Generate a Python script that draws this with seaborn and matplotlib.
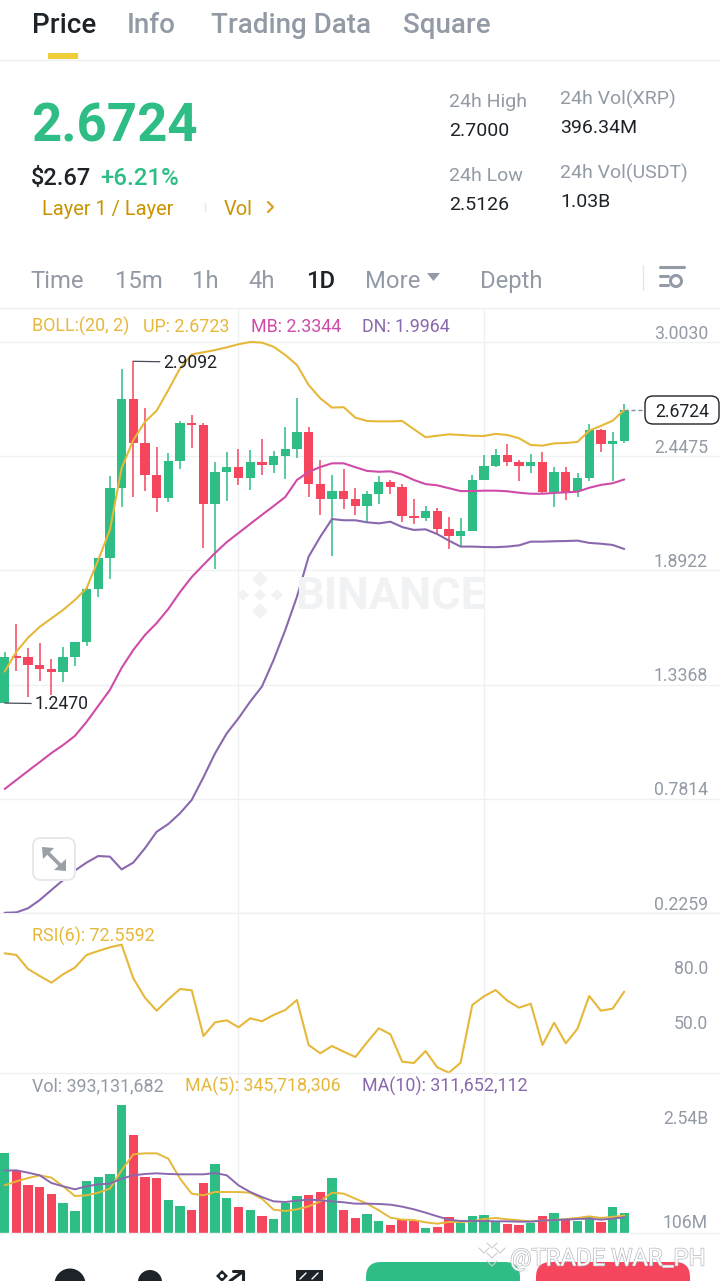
import numpy as np
import pandas as pd
import matplotlib
matplotlib.use("Agg")
import matplotlib.pyplot as plt
import matplotlib.patheffects as pe
from matplotlib.patches import FancyBboxPatch, Rectangle, Circle, Polygon
import seaborn as sns

# candles (daily XRP/USDT)
open_px = [1.247, 1.476, 1.470, 1.434, 1.414, 1.398, 1.472, 1.543, 1.800, 1.954, 2.293, 2.726, 2.512, 2.358, 2.246, 2.426, 2.611, 2.599,
           2.214, 2.371, 2.394, 2.340, 2.421, 2.403, 2.447, 2.484, 2.567, 2.312, 2.240, 2.278, 2.240, 2.205, 2.262, 2.322, 2.296, 2.157,
           2.147, 2.183, 2.095, 2.060, 2.082, 2.332, 2.401, 2.453, 2.421, 2.400, 2.419, 2.272, 2.372, 2.280, 2.342, 2.575, 2.507, 2.523]
high_px = [1.497, 1.630, 1.513, 1.539, 1.460, 1.521, 1.546, 1.813, 1.954, 2.351, 2.872, 2.9092, 2.681, 2.494, 2.462, 2.620, 2.648, 2.608,
           2.419, 2.470, 2.484, 2.478, 2.531, 2.473, 2.588, 2.729, 2.591, 2.429, 2.356, 2.385, 2.294, 2.278, 2.351, 2.332, 2.312, 2.238,
           2.207, 2.197, 2.152, 2.149, 2.355, 2.452, 2.481, 2.508, 2.429, 2.458, 2.468, 2.397, 2.394, 2.367, 2.604, 2.580, 2.564, 2.700]
low_px = [1.247, 1.404, 1.278, 1.356, 1.286, 1.351, 1.429, 1.525, 1.764, 1.849, 2.202, 2.251, 2.280, 2.175, 2.226, 2.385, 2.486, 2.003,
          1.900, 2.231, 2.309, 2.283, 2.356, 2.367, 2.335, 2.440, 2.248, 2.162, 1.962, 2.191, 2.162, 2.129, 2.215, 2.262, 2.129, 2.116,
          2.134, 2.073, 1.996, 2.012, 2.082, 2.332, 2.394, 2.400, 2.327, 2.367, 2.267, 2.201, 2.236, 2.248, 2.326, 2.470, 2.328, 2.5126]
close_px = [1.472, 1.466, 1.434, 1.414, 1.398, 1.470, 1.543, 1.800, 1.954, 2.293, 2.726, 2.512, 2.358, 2.246, 2.426, 2.611, 2.599, 2.214,
            2.371, 2.394, 2.340, 2.421, 2.403, 2.447, 2.484, 2.567, 2.312, 2.240, 2.278, 2.240, 2.205, 2.262, 2.322, 2.299, 2.157, 2.147,
            2.183, 2.095, 2.060, 2.082, 2.332, 2.401, 2.453, 2.421, 2.400, 2.419, 2.272, 2.372, 2.270, 2.342, 2.575, 2.507, 2.523, 2.6724]

boll_up = [1.400, 1.497, 1.565, 1.618, 1.659, 1.700, 1.748, 1.805, 1.943, 2.089, 2.389, 2.526, 2.615, 2.669, 2.770, 2.875, 2.943, 2.953,
           2.964, 2.977, 2.992, 3.003, 3.000, 2.980, 2.940, 2.891, 2.794, 2.729, 2.684, 2.686, 2.635, 2.619, 2.617, 2.617, 2.619, 2.579,
           2.540, 2.547, 2.554, 2.551, 2.547, 2.546, 2.556, 2.551, 2.535, 2.502, 2.499, 2.510, 2.512, 2.517, 2.572, 2.595, 2.620, 2.6723]
boll_mb = [0.829, 0.873, 0.917, 0.960, 1.004, 1.043, 1.087, 1.155, 1.233, 1.311, 1.418, 1.505, 1.578, 1.636, 1.705, 1.787, 1.860, 1.919,
           1.977, 2.030, 2.074, 2.118, 2.162, 2.205, 2.249, 2.332, 2.371, 2.395, 2.413, 2.413, 2.394, 2.376, 2.372, 2.374, 2.358, 2.332,
           2.312, 2.306, 2.292, 2.278, 2.278, 2.280, 2.280, 2.277, 2.270, 2.265, 2.265, 2.269, 2.272, 2.275, 2.294, 2.308, 2.316, 2.3344]
boll_dn = [0.227, 0.229, 0.249, 0.289, 0.338, 0.386, 0.432, 0.471, 0.503, 0.500, 0.438, 0.471, 0.541, 0.621, 0.659, 0.711, 0.776, 0.886,
           1.003, 1.100, 1.173, 1.254, 1.327, 1.456, 1.602, 1.764, 1.959, 2.056, 2.142, 2.136, 2.136, 2.126, 2.121, 2.129, 2.103, 2.089,
           2.092, 2.069, 2.037, 2.008, 2.008, 2.006, 2.005, 2.008, 2.014, 2.032, 2.032, 2.034, 2.035, 2.037, 2.026, 2.022, 2.016, 1.9964]

rsi6 = [93.47, 92.55, 84.91, 81.09, 77.44, 82.02, 85.62, 92.55, 94.73, 96.75, 98.16, 79.84, 69.25, 62.16, 68.38, 74.00, 73.29, 48.36,
        55.84, 56.93, 53.11, 58.02, 56.38, 59.82, 62.55, 68.00, 43.45, 38.93, 42.91, 39.80, 36.91, 44.93, 52.56, 49.29, 34.35, 33.64,
        40.18, 31.29, 28.35, 33.80, 65.27, 70.02, 73.45, 67.62, 63.80, 65.98, 43.45, 55.62, 44.38, 52.35, 70.18, 62.16, 63.25, 72.56]

# volume in millions
volume = [1588, 1224, 953, 906, 767, 589, 430, 1039, 1105, 1164, 2540, 1951, 1118, 1085, 662, 536, 450, 986,
          1363, 688, 523, 463, 344, 271, 595, 741, 754, 807, 1098, 450, 304, 384, 245, 159, 265, 245,
          99, 126, 318, 198, 331, 351, 212, 179, 152, 192, 337, 390, 251, 245, 331, 218, 509, 393]
vol_ma5 = [946, 1025, 1091, 1144, 1098, 926, 734, 748, 800, 880, 1244, 1561, 1581, 1581, 1475, 1078, 781, 748,
           814, 814, 814, 800, 681, 463, 437, 470, 529, 628, 800, 781, 681, 582, 450, 304, 265, 258,
           212, 185, 218, 218, 232, 278, 298, 271, 251, 232, 245, 258, 278, 298, 331, 298, 318, 346]
vol_ma10 = [1237, 1244, 1197, 1144, 992, 926, 867, 926, 966, 979, 1078, 1144, 1171, 1184, 1171, 1164, 1164, 1164,
            1191, 1144, 946, 814, 714, 628, 615, 642, 662, 648, 628, 609, 582, 582, 576, 562, 523, 470,
            404, 331, 265, 238, 238, 238, 232, 232, 225, 225, 245, 258, 265, 278, 284, 265, 284, 312]

price_ticks = [3.0030, 2.4475, 1.8922, 1.3368, 0.7814, 0.2259]
rsi_ticks = [80.0, 50.0]
vol_ticks = [2540, 106]
vol_tick_labels = ["2.54B", "106M"]
date_ticks = [20, 41]

GREEN = "#2EBD85"
RED = "#F6465D"
YELLOW = "#E6B83A"
PINK = "#CF4BA8"
PURPLE = "#8A68AE"
GRAY = "#929AA5"
DARK = "#1E2329"
GRID = "#EEF0F2"

df = pd.DataFrame({"day": np.arange(len(close_px)), "open": open_px, "high": high_px, "low": low_px, "close": close_px,
                   "up": boll_up, "mb": boll_mb, "dn": boll_dn, "rsi": rsi6,
                   "vol": volume, "ma5": vol_ma5, "ma10": vol_ma10})
df["colour"] = np.where(df["close"] >= df["open"], "up", "down")
colours = df["colour"].map({"up": GREEN, "down": RED})

sns.set_theme(style="white")
plt.rcParams["font.family"] = ["Roboto", "DejaVu Sans"]

W, H = 720, 1281
fig = plt.figure(figsize=(W / 100, H / 100), dpi=100, facecolor="white")


def panel(top, bottom):
    ax = fig.add_axes([0, 1 - bottom / H, 1, (bottom - top) / H])
    ax.set_facecolor("none")
    ax.set_xlim(-0.402, 61.19)
    sns.despine(ax=ax, left=True, right=True, top=True, bottom=False)
    ax.spines["bottom"].set_color(GRID)
    ax.spines["bottom"].set_linewidth(1)
    ax.set_xticks(date_ticks)
    ax.grid(True, axis="x", color=GRID, linewidth=1)
    ax.tick_params(left=False, bottom=False, labelleft=False, labelbottom=False)
    ax.set_xlabel("")
    ax.set_ylabel("")
    return ax


def tick_text(ax, value, label, off):
    ax.annotate(label, xy=(708 / 720, value), xycoords=("axes fraction", "data"), xytext=(0, off * 0.72),
                textcoords="offset points", ha="right", va="center", color=GRAY, fontsize=12.7)


# price panel
ax_price = panel(308, 913)
ax_price.set_ylim(0.2259, 3.1684)
ax_price.set_yticks(price_ticks)
ax_price.grid(True, axis="y", color=GRID, linewidth=1)
ax_price.vlines(df["day"], df["low"], df["high"], colors=colours, linewidth=1.1, zorder=3)
ax_price.bar(df["day"], df["close"] - df["open"], bottom=df["open"], width=0.8, color=colours, linewidth=0, zorder=3)
sns.lineplot(data=df, x="day", y="up", ax=ax_price, color=YELLOW, linewidth=1.5, zorder=4)
sns.lineplot(data=df, x="day", y="mb", ax=ax_price, color=PINK, linewidth=1.5, zorder=4)
sns.lineplot(data=df, x="day", y="dn", ax=ax_price, color=PURPLE, linewidth=1.5, zorder=4)
ax_price.set_xlabel("")
ax_price.set_ylabel("")
for v in price_ticks:
    tick_text(ax_price, v, f"{v:.4f}", 8.5)

# high and low markers
ax_price.annotate("2.9092", xy=(df["day"][11], high_px[11]), xytext=(21.5, -1), textcoords="offset points",
                  va="center", ha="left", color=DARK, fontsize=12.7, zorder=6,
                  arrowprops=dict(arrowstyle="-", color="#474D57", lw=0.9, shrinkA=0, shrinkB=0, relpos=(0, 0.55)))
ax_price.annotate("1.2470", xy=(df["day"][0], low_px[0]), xytext=(21.5, -1), textcoords="offset points",
                  va="center", ha="left", color=DARK, fontsize=12.7, zorder=6,
                  arrowprops=dict(arrowstyle="-", color="#474D57", lw=0.9, shrinkA=0, shrinkB=0, relpos=(0, 0.55)))

# last price tag
ax_price.plot([df["day"].iloc[-1], 54.8], [close_px[-1], close_px[-1]], color="#848E9C", lw=1, ls=(0, (3, 2)), zorder=4)

# RSI panel
ax_rsi = panel(913, 1073)
ax_rsi.set_ylim(28.18, 115.45)
sns.lineplot(data=df, x="day", y="rsi", ax=ax_rsi, color=YELLOW, linewidth=1.5)
ax_rsi.set_xlabel("")
ax_rsi.set_ylabel("")
for v in rsi_ticks:
    tick_text(ax_rsi, v, f"{v:.1f}", 8.5)

# volume panel
ax_vol = panel(1073, 1233)
sns.barplot(data=df, x="day", y="vol", hue="colour", palette={"up": GREEN, "down": RED}, native_scale=True,
            dodge=False, width=0.8, saturation=1, legend=False, ax=ax_vol, linewidth=0)
sns.lineplot(data=df, x="day", y="ma5", ax=ax_vol, color=YELLOW, linewidth=1.4)
sns.lineplot(data=df, x="day", y="ma10", ax=ax_vol, color=PURPLE, linewidth=1.4)
ax_vol.set_xlim(-0.402, 61.19)
ax_vol.set_ylim(0, 3175)
ax_vol.set_xlabel("")
ax_vol.set_ylabel("")
tick_text(ax_vol, vol_ticks[0], vol_tick_labels[0], -13.5)
tick_text(ax_vol, vol_ticks[1], vol_tick_labels[1], 4.2)

# overlay in pixel units for the app chrome
ui = fig.add_axes([0, 0, 1, 1], zorder=10)
ui.set_xlim(0, W)
ui.set_ylim(H, 0)
ui.axis("off")
ui.patch.set_alpha(0)


def txt(x, y, s, color=DARK, size=12, weight="normal", ha="left", **kw):
    return ui.text(x, y + size * 0.14, s, color=color, fontsize=size, fontweight=weight, ha=ha, va="center", **kw)


# tabs
txt(32, 23, "Price", size=20, weight="medium")
txt(127, 23, "Info", GRAY, 20, "medium")
txt(211, 23, "Trading Data", GRAY, 20, "medium")
txt(403, 23, "Square", GRAY, 20, "medium")
ui.add_patch(Rectangle((48, 53), 30, 6, color="#F0CE3A", lw=0))
ui.plot([0, W], [59.5, 59.5], color=GRID, lw=1)

# price header
txt(31, 122, "2.6724", GREEN, 38, "bold")
txt(31, 176, "$2.67", DARK, 17, "medium")
txt(100, 176, "+6.21%", GREEN, 17.3, "medium")
txt(42, 207, "Layer 1 / Layer", "#C99400", 14.4)
ui.plot([204.5, 204.5], [203, 211], color="#E5E7EA", lw=1)
txt(224, 207, "Vol", "#C99400", 14.4)
ui.plot([268, 273, 268], [202, 207, 212], color="#D8A520", lw=1.6)
txt(449, 100, "24h High", GRAY, 14)
txt(449, 129, "2.7000", DARK, 14)
txt(449, 174, "24h Low", GRAY, 14)
txt(449, 203, "2.5126", DARK, 14)
txt(560, 97, "24h Vol(XRP)", GRAY, 14)
txt(560, 126, "396.34M", DARK, 14)
txt(560, 171, "24h Vol(USDT)", GRAY, 14)
txt(560, 200, "1.03B", DARK, 14)

# interval bar
for x, s in [(30, "Time"), (115, "15m"), (192, "1h"), (248, "4h"), (365, "More"), (480, "Depth")]:
    txt(x, 279, s, GRAY, 17.2)
txt(306, 279, "1D", DARK, 17.2, "medium")
ui.add_patch(Polygon([(427, 273), (440, 273), (433.5, 281)], color=GRAY, lw=0))
ui.plot([642.5, 642.5], [265, 290], color="#E5E7EA", lw=1)
ui.plot([660, 684], [267, 267], color=GRAY, lw=2.2)
ui.plot([660, 668], [276, 276], color=GRAY, lw=2.2)
ui.plot([660, 668], [285, 285], color=GRAY, lw=2.2)
ui.add_patch(Circle((676, 281), 5.5, fill=False, ec=GRAY, lw=2.2))
ui.plot([0, W], [308, 308], color=GRID, lw=1)

# indicator legends
txt(32, 325, "BOLL:(20, 2)", YELLOW, 12.9)
txt(143, 325, "UP: 2.6723", YELLOW, 12.9)
txt(251, 325, "MB: 2.3344", PINK, 12.9)
txt(362, 325, "DN: 1.9964", PURPLE, 12.9)
txt(32, 935, "RSI(6): 72.5592", YELLOW, 12.9)
txt(32, 1085, "Vol: 393,131,682", GRAY, 12.9)
txt(185, 1085, "MA(5): 345,718,306", YELLOW, 12.9)
txt(362, 1085, "MA(10): 311,652,112", PURPLE, 12.9)

# watermark behind the chart
ui.text(295, 597, "BINANCE", color="#F1F2F4", fontsize=32.5, fontweight="bold", va="center", ha="left", zorder=0)
for cx, cy, r in [(260, 579, 8), (243, 595, 6), (277, 595, 6), (260, 611, 8), (260, 595, 6)]:
    ui.add_patch(Polygon([(cx - r, cy), (cx, cy - r), (cx + r, cy), (cx, cy + r)], color="#F1F2F4", lw=0, zorder=0))

# last price tag box
ui.add_patch(FancyBboxPatch((645, 396), 74, 28, boxstyle="round,pad=0,rounding_size=8", fc="white", ec=DARK, lw=1))
txt(682, 410, "2.6724", DARK, 12.7, ha="center")

# expand button
ui.add_patch(FancyBboxPatch((33, 838), 42, 42, boxstyle="round,pad=0,rounding_size=8", fc="white", ec="#E6E8EA", lw=1.4))
ui.add_patch(Polygon([(42, 847), (54, 848), (43, 859)], color="#9AA0A6", lw=0))
ui.add_patch(Polygon([(66, 871), (54, 870), (66, 859)], color="#9AA0A6", lw=0))
ui.plot([46, 62], [851, 867], color="#9AA0A6", lw=2.6)

# bottom bar
ui.add_patch(Circle((70, 1284), 15.5, color=DARK, lw=0))
ui.add_patch(Circle((150, 1282), 12, color=DARK, lw=0))
ui.add_patch(Polygon([(222, 1270), (228, 1276), (222, 1282), (216, 1276)], color=DARK, lw=0))
ui.add_patch(Circle((222, 1276), 2, color="white", lw=0))
ui.plot([230, 241], [1281, 1273], color=DARK, lw=2.2)
ui.plot([233, 243, 243], [1271, 1271, 1281], color=DARK, lw=2.2)
ui.add_patch(Rectangle((296, 1270), 27, 11, color=DARK, lw=0))
ui.plot([300, 306], [1279, 1273], color="white", lw=1)
ui.plot([312, 318], [1279, 1273], color="white", lw=1)
ui.add_patch(FancyBboxPatch((366, 1262), 154, 40, boxstyle="round,pad=0,rounding_size=15", fc=GREEN, ec="none"))
ui.add_patch(FancyBboxPatch((536, 1262), 154, 40, boxstyle="round,pad=0,rounding_size=15", fc=RED, ec="none"))

# share watermark
for dx, dy in [(0, 0), (-8, -5), (8, -5), (0, -10), (0, 8)]:
    cx, cy = 492 + dx, 1256 + dy
    ui.plot([cx - 5, cx, cx + 5], [cy - 3, cy + 2, cy - 3], color="#C9CCD1", lw=0.8)
ui.text(510, 1259, "@TRADE WAR_PH", color="white", fontsize=17.2, va="center", ha="left",
        path_effects=[pe.withStroke(linewidth=1, foreground="#B4B8BE")])

fig.savefig("out.png", dpi=100)
